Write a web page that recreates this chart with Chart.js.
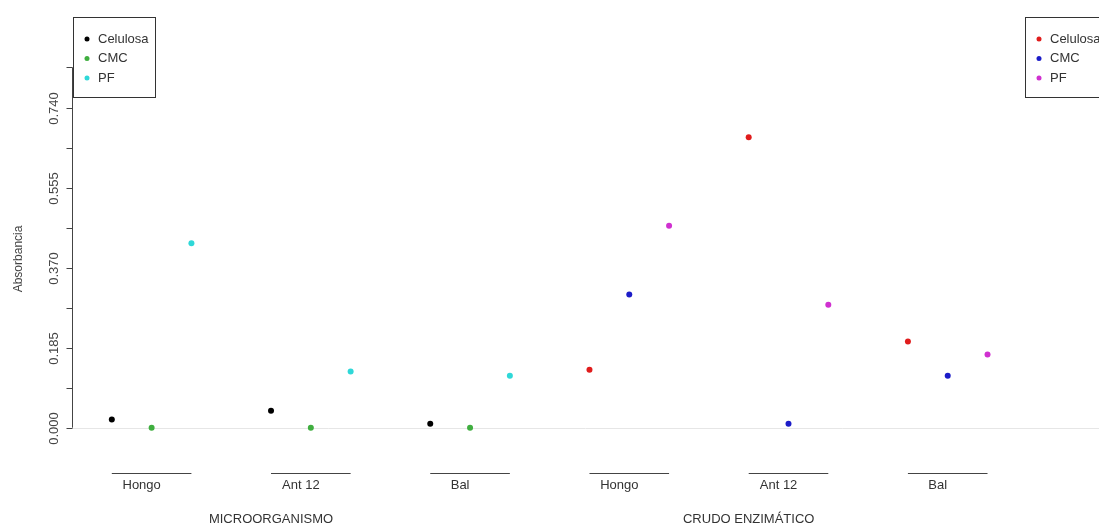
<!DOCTYPE html>
<html>
<head>
<meta charset="utf-8">
<script src="https://cdn.jsdelivr.net/npm/chart.js@4.4.1/dist/chart.umd.min.js"></script>
<style>
  body { margin: 0; background: #fff; }
  #grafico { display: block; }
</style>
</head>
<body>
<canvas id="grafico" width="1099" height="529"></canvas>
<script>
// datos
var grupos = ["Hongo", "Ant 12", "Bal"];
var bloques = ["MICROORGANISMO", "CRUDO ENZIMÁTICO"];
var sustratos = ["Celulosa", "CMC", "PF"];

var microCelulosa = [0.019, 0.039, 0.009];
var microCMC = [0.000, 0.000, 0.000];
var microPF = [0.426, 0.130, 0.120];

var crudoCelulosa = [0.134, 0.671, 0.199];
var crudoCMC = [0.308, 0.009, 0.120];
var crudoPF = [0.467, 0.284, 0.169];

var yTicks = [0, 0.0925, 0.185, 0.2775, 0.37, 0.4625, 0.555, 0.6475, 0.74, 0.8325];
var yTickLabels = ["0.000", "", "0.185", "", "0.370", "", "0.555", "", "0.740", ""];

var coloresMicro = ["#000000", "#3fae3f", "#2fd8d8"];
var coloresCrudo = ["#e01c1c", "#1c1cc8", "#d030d0"];

function puntos(bloque, serie, valores){
	var out = [];
	for (var g = 0; g < valores.length; g++){
		out.push({ x: 12 * bloque + 4 * g + serie + 1, y: valores[g] });
	}
	return out;
}

var seriesMicro = [microCelulosa, microCMC, microPF];
var seriesCrudo = [crudoCelulosa, crudoCMC, crudoPF];
var datasets = [];
for (var s = 0; s < 3; s++){
	datasets.push({ label: sustratos[s], data: puntos(0, s, seriesMicro[s]),
		backgroundColor: coloresMicro[s], borderWidth: 0, pointRadius: 3 });
}
for (var s = 0; s < 3; s++){
	datasets.push({ label: sustratos[s], data: puntos(1, s, seriesCrudo[s]),
		backgroundColor: coloresCrudo[s], borderWidth: 0, pointRadius: 3 });
}

var FUENTE = '"Liberation Sans", Arial, sans-serif';

function leyenda(ctx, x0, y0, w, h, colores){
	ctx.save();
	ctx.fillStyle = "#fff";
	ctx.fillRect(x0, y0, w, h);
	ctx.strokeStyle = "#333";
	ctx.lineWidth = 1;
	ctx.strokeRect(x0 + 0.5, y0 + 0.5, w, h);
	ctx.font = "13px " + FUENTE;
	ctx.textBaseline = "middle";
	ctx.textAlign = "left";
	for (var i = 0; i < sustratos.length; i++){
		var yy = y0 + 22 + i * 19.5;
		ctx.fillStyle = colores[i];
		ctx.beginPath();
		ctx.arc(x0 + 14, yy, 2.5, 0, Math.PI * 2);
		ctx.fill();
		ctx.fillStyle = "#333";
		ctx.fillText(sustratos[i], x0 + 25, yy);
	}
	ctx.restore();
}

var ejesR = {
	id: "ejesR",
	beforeDatasetsDraw: function(chart){
		var ctx = chart.ctx, xs = chart.scales.x, ys = chart.scales.y;
		var y0 = Math.round(ys.getPixelForValue(0)) + 0.5;
		ctx.save();
		ctx.strokeStyle = "#e6e6e6";
		ctx.lineWidth = 1;
		ctx.beginPath();
		ctx.moveTo(xs.getPixelForValue(0), y0);
		ctx.lineTo(chart.width, y0);
		ctx.stroke();
		ctx.restore();
	},
	afterDraw: function(chart){
		var ctx = chart.ctx, xs = chart.scales.x, ys = chart.scales.y;
		var ax = Math.round(xs.getPixelForValue(0)) + 0.5;
		ctx.save();
		ctx.strokeStyle = "#444";
		ctx.lineWidth = 1;
		// eje y
		ctx.beginPath();
		ctx.moveTo(ax, ys.getPixelForValue(yTicks[0]));
		ctx.lineTo(ax, ys.getPixelForValue(yTicks[yTicks.length - 1]));
		ctx.stroke();
		ctx.fillStyle = "#444";
		ctx.textAlign = "center";
		ctx.textBaseline = "middle";
		ctx.font = "13px " + FUENTE;
		for (var i = 0; i < yTicks.length; i++){
			var py = Math.round(ys.getPixelForValue(yTicks[i])) + 0.5;
			ctx.beginPath();
			ctx.moveTo(ax - 6, py);
			ctx.lineTo(ax, py);
			ctx.stroke();
			if (yTickLabels[i]){
				ctx.save();
				ctx.translate(ax - 18, py);
				ctx.rotate(-Math.PI / 2);
				ctx.fillText(yTickLabels[i], 0, 0);
				ctx.restore();
			}
		}
		ctx.font = "12px " + FUENTE;
		ctx.save();
		ctx.translate(19, ys.getPixelForValue(0.39));
		ctx.rotate(-Math.PI / 2);
		ctx.fillText("Absorbancia", 0, 0);
		ctx.restore();

		// grupos en el eje x
		ctx.fillStyle = "#333";
		ctx.font = "13px " + FUENTE;
		for (var b = 0; b < bloques.length; b++){
			for (var g = 0; g < grupos.length; g++){
				var base = 12 * b + 4 * g;
				var xa = xs.getPixelForValue(base + 1);
				var xb = xs.getPixelForValue(base + 3);
				ctx.beginPath();
				ctx.moveTo(xa, 473.5);
				ctx.lineTo(xb, 473.5);
				ctx.stroke();
				ctx.fillText(grupos[g], xs.getPixelForValue(base + 1.75), 485);
			}
			ctx.fillText(bloques[b], xs.getPixelForValue(12 * b + 5), 519);
		}
		ctx.restore();

		leyenda(ctx, 73, 17, 82, 80, coloresMicro);
		leyenda(ctx, 1025, 17, 82, 80, coloresCrudo);
	}
};

var config = {
	type: "scatter",
	data: { datasets: datasets },
	options: {
		responsive: false,
		animation: false,
		layout: { padding: { left: 72, right: 0, top: 8, bottom: 84 } },
		plugins: { legend: { display: false }, tooltip: { enabled: false } },
		scales: {
			x: { type: "linear", min: 0, max: 25.7, display: false },
			y: { type: "linear", min: -0.04, max: 0.97, display: false }
		},
		clip: false
	},
	plugins: [ejesR]
};

var canvas = document.getElementById("grafico").getContext("2d");
window.grafico = new Chart(canvas, config);
</script>
</body>
</html>
